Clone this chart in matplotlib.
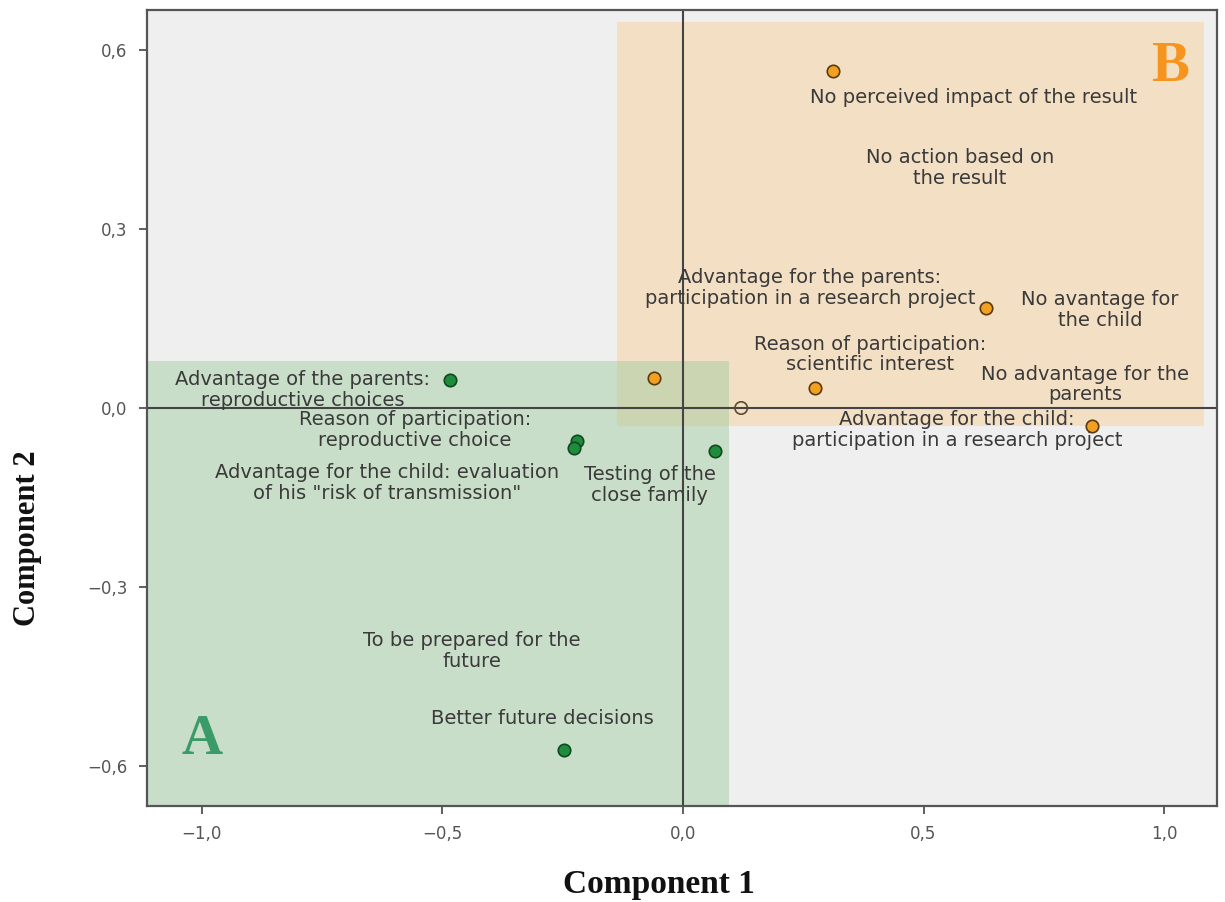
import matplotlib
matplotlib.use("Agg")
import matplotlib.pyplot as plt
from matplotlib.patches import Rectangle

# ---- data ----
orange_x = [0.312, 0.630, -0.060, 0.274, 0.850]
orange_y = [0.565, 0.168, 0.050, 0.034, -0.030]
green_x = [-0.484, -0.220, -0.227, 0.067, -0.247]
green_y = [0.047, -0.055, -0.067, -0.072, -0.573]
hollow_x = [0.121]
hollow_y = [0.0]

labels = [
    "No perceived impact of the result",
    "No action based on\nthe result",
    "Advantage for the parents:\nparticipation in a research project",
    "No avantage for\nthe child",
    "Reason of participation:\nscientific interest",
    "No advantage for the\nparents",
    "Advantage for the child:\nparticipation in a research project",
    "Advantage of the parents:\nreproductive choices",
    "Reason of participation:\nreproductive choice",
    "Advantage for the child: evaluation\nof his \"risk of transmission\"",
    "Testing of the\nclose family",
    "To be prepared for the\nfuture",
    "Better future decisions",
]
label_x = [0.605, 0.576, 0.264, 0.867, 0.389, 0.836, 0.570, -0.790, -0.557, -0.615, -0.069, -0.439, -0.293]
label_y = [0.521, 0.402, 0.201, 0.164, 0.090, 0.039, -0.037, 0.030, -0.037, -0.126, -0.129, -0.407, -0.521]

xticks = [-1.0, -0.5, 0.0, 0.5, 1.0]
xticklabels = ["\u22121,0", "\u22120,5", "0,0", "0,5", "1,0"]
yticks = [-0.6, -0.3, 0.0, 0.3, 0.6]
yticklabels = ["\u22120,6", "\u22120,3", "0,0", "0,3", "0,6"]

# region boxes (x0, y0, x1, y1)
box_A = (-1.114, -0.667, 0.096, 0.079)
box_B = (-0.137, -0.030, 1.083, 0.647)

fig = plt.figure(figsize=(12.25, 9.02), dpi=100)
ax = fig.add_axes([147/1225, 1-806/902, (1217-147)/1225, (806-10)/902])
ax.set_facecolor("#EFEFEF")
ax.set_xlim(-1.114, 1.110)
ax.set_ylim(-0.667, 0.667)

ax.add_patch(Rectangle((box_B[0], box_B[1]), box_B[2]-box_B[0], box_B[3]-box_B[1],
                       facecolor="#F8D09A", alpha=0.5, edgecolor="none", zorder=1))
ax.add_patch(Rectangle((box_A[0], box_A[1]), box_A[2]-box_A[0], box_A[3]-box_A[1],
                       facecolor="#9CCB9C", alpha=0.45, edgecolor="none", zorder=1))

ax.axhline(0, color="#444444", lw=1.5, zorder=2)
ax.axvline(0, color="#444444", lw=1.5, zorder=2)

ax.scatter(orange_x, orange_y, s=80, facecolor="#F2A024", edgecolor="#5A3A08", linewidth=1.2, zorder=4)
ax.scatter(green_x, green_y, s=80, facecolor="#1E8C3C", edgecolor="#0E4A1E", linewidth=1.2, zorder=4)
ax.scatter(hollow_x, hollow_y, s=80, facecolor="none", edgecolor="#5A4A30", linewidth=1.2, zorder=4)

for t, x, y in zip(labels, label_x, label_y):
    ax.text(x, y, t, ha="center", va="center", fontsize=14, color="#3A3A3A",
            family="DejaVu Sans", linespacing=1.1, zorder=5)

ax.text(1.012, 0.572, "B", ha="center", va="center", fontsize=41, fontweight="bold",
        family="Liberation Serif", color="#F7941D", zorder=5)
ax.text(-1.0, -0.556, "A", ha="center", va="center", fontsize=41, fontweight="bold",
        family="Liberation Serif", color="#3A9A68", zorder=5)

ax.set_xticks(xticks)
ax.set_xticklabels(xticklabels)
ax.set_yticks(yticks)
ax.set_yticklabels(yticklabels)
ax.tick_params(direction="out", length=6, width=1.2, color="#444444", labelcolor="#555555",
               labelsize=12, pad=8)
ax.tick_params(top=False, right=False)
for sp in ax.spines.values():
    sp.set_color("#555555")
    sp.set_linewidth(1.6)

fig.text(659/1225, 1-885/902, "Component 1", ha="center", va="center", fontsize=24,
         fontweight="bold", family="Liberation Serif", color="#111111")
fig.text(28/1225, 1-538/902, "Component 2", ha="center", va="center", fontsize=22,
         fontweight="bold", family="Liberation Serif", color="#111111", rotation=90)

fig.savefig("out.png", dpi=100, facecolor="white")
